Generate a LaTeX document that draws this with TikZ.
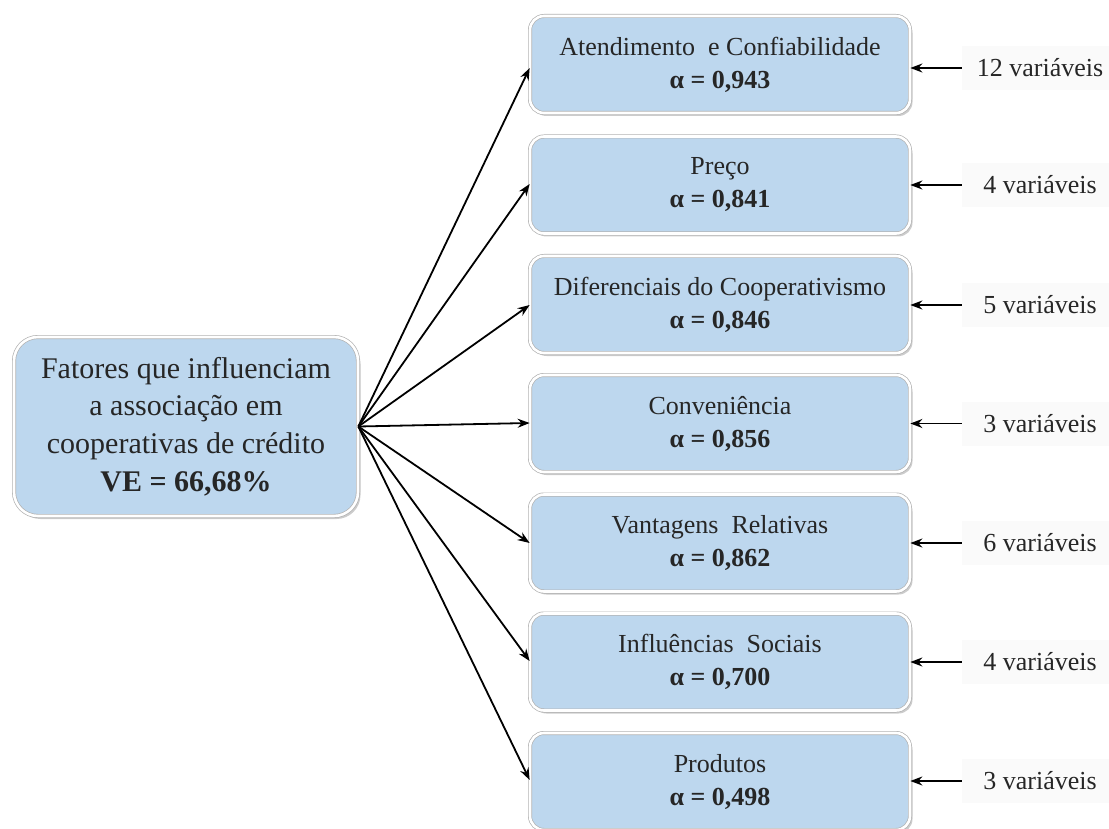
\documentclass[tikz,border=0pt]{standalone}
\usepackage{fontspec}
\setmainfont{Liberation Serif}
\usetikzlibrary{arrows.meta,shadows}
\definecolor{boxblue}{RGB}{189,215,238}
\definecolor{txt}{RGB}{38,38,38}
\begin{document}
\begin{tikzpicture}[x=1pt,y=-1pt,
  box/.style={draw=gray!60, double=white, double distance=2.6pt, line width=0.7pt,
    fill=boxblue, text=txt, align=center, inner sep=0pt,
    drop shadow={shadow xshift=2.5pt, shadow yshift=-3pt, fill=gray!80, opacity=0.5}},
  facbox/.style={box, rounded corners=14pt, minimum width=380pt, minimum height=97pt,
    font=\fontsize{26}{33}\selectfont},
  mainbox/.style={box, rounded corners=24pt, minimum width=344pt, minimum height=179pt,
    font=\fontsize{30}{37.7}\selectfont},
  varlbl/.style={fill=black!2, text=txt, minimum width=156pt, minimum height=44pt,
    inner sep=0pt, font=\fontsize{26}{32}\selectfont},
  arr/.style={-{Stealth[length=12pt,width=9pt]}, line width=1.8pt, black}]
\useasboundingbox (0,0) rectangle (1109,829);

\node[mainbox] (m) at (186,426.5) {Fatores que influenciam\\a associação em\\cooperativas de crédito\\\textbf{VE = 66,68\%}};

\node[facbox] (b1) at (720,64.5) {Atendimento\ \ e Confiabilidade\\\textbf{α = 0,943}};
\node[facbox] (b2) at (720,185) {Preço\\\textbf{α = 0,841}};
\node[facbox] (b3) at (720,304.5) {Diferenciais do Cooperativismo\\\textbf{α = 0,846}};
\node[facbox] (b4) at (720,423.5) {Conveniência\\\textbf{α = 0,856}};
\node[facbox] (b5) at (720,543) {Vantagens\ \ Relativas\\\textbf{α = 0,862}};
\node[facbox] (b6) at (720,662) {Influências\ \ Sociais\\\textbf{α = 0,700}};
\node[facbox] (b7) at (720,781.5) {Produtos\\\textbf{α = 0,498}};

\node[varlbl] (v1) at (1040,68) {12 variáveis};
\node[varlbl] (v2) at (1040,185) {4 variáveis};
\node[varlbl] (v3) at (1040,305) {5 variáveis};
\node[varlbl] (v4) at (1040,423.5) {3 variáveis};
\node[varlbl] (v5) at (1040,543) {6 variáveis};
\node[varlbl] (v6) at (1040,662) {4 variáveis};
\node[varlbl] (v7) at (1040,781) {3 variáveis};

\coordinate (src) at (m.east);
\foreach \i/\yy in {1/68,2/184,3/305,4/423,5/543,6/661,7/780}{
  \coordinate (t\i) at (b\i.west |- 0,\yy);
  \draw[arr] (src) -- (t\i);
  \draw[arr] (v\i.west) -- (b\i.east |- v\i.west);
}
\end{tikzpicture}
\end{document}
